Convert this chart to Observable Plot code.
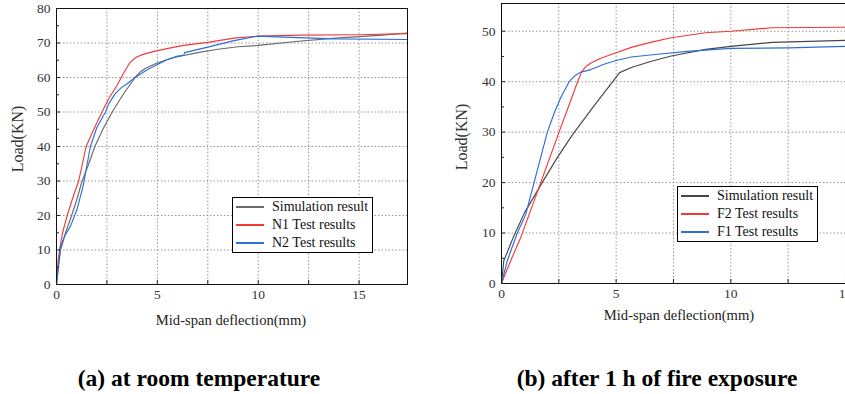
<!DOCTYPE html>
<html><head><meta charset="utf-8">
<script src="https://cdn.jsdelivr.net/npm/d3@7"></script>
<script src="https://cdn.jsdelivr.net/npm/@observablehq/plot@0.6"></script>
<style>
html,body{margin:0;padding:0;background:#fff;overflow:hidden;width:845px;height:394px}
#wrap{position:relative;width:845px;height:394px;overflow:hidden;font-family:'Liberation Serif','DejaVu Serif',serif;color:#222}
.panel{position:absolute;top:0}
.panel text{font-family:'Liberation Serif','DejaVu Serif',serif}
.t{position:absolute;white-space:nowrap;line-height:1}
.ylab{font-size:16px;transform:translate(-50%,-50%) rotate(-90deg);color:#333}
.xlab{font-size:14.6px;transform:translateX(-50%);color:#222}
.title{font-size:23.5px;font-weight:bold;transform:translateX(-50%);color:#000}
.legend{position:absolute;border:1.3px solid #000;background:#fff;font-size:14px;padding:0 4px 0 3px;color:#111}
.legend .row{display:flex;align-items:center;height:18px}
.legend .sw{display:inline-block;width:28px;height:1.5px;margin-right:8px}
</style>
</head><body><div id="wrap"></div>
<script>
// ---- Panel (a): at room temperature ----
const simA_x = [0,0.1,0.2,0.45,0.75,1.0,1.27,1.6,1.9,2.3,2.76,3.35,3.9,4.15,4.4,4.7,5,5.5,6,7,8,9,10,12,14,16,17.4];
const simA_y = [0,5,10,15,20,24.5,30,35,40,45,50,55.5,60,61.6,62.6,63.5,64.2,65.2,66,67.2,68.2,68.9,69.3,70.5,71.5,72.2,72.9];
const n1_x = [0,0.08,0.15,0.3,0.53,0.8,1.1,1.47,1.85,2.26,2.6,3.0,3.3,3.6,3.8,4.0,4.3,4.6,5,5.6,6.3,7.5,8.8,10,12.1,15,17.4];
const n1_y = [0,7,10,15,20,25,30,40,45,50,54,57.7,61,64,65.2,66,66.7,67.2,67.8,68.5,69.3,70.2,71.4,72,72.3,72.4,72.7];
const n2_x = [0,0.1,0.2,0.4,0.7,1.0,1.3,1.35,1.68,2.0,2.43,2.6,2.92,3.2,3.5,3.9,4.3,4.7,5,5.5,6,6.3,6.35,7.5,8.8,10,11.3,13.8,17.4];
const n2_y = [0,6,11,14,17,21.5,28,29.5,40,45.5,50,52.5,55.4,57,58.2,60,61.5,62.9,63.8,65.2,66.2,66.4,67.2,68.8,70.7,72,71.7,71.2,71];
// ---- Panel (b): after 1 h of fire exposure ----
const simB_x = [0,0.1,0.5,1.0,1.8,2.44,3.1,4.0,4.85,5.15,5.66,6.5,7.4,8.9,10,11.8,15,17];
const simB_y = [0,4.5,9,14,20.2,25,29.5,35,40,41.8,42.8,44,45.1,46.4,47,47.8,48.2,48.3];
const f2_x = [0,0.1,0.4,0.83,1.71,2.51,3.32,3.5,3.68,3.9,4.3,4.78,5.66,6.5,7.4,8.9,10,11.8,15,17];
const f2_y = [0,1.2,4.5,9,20,30,40,42,43,43.7,44.6,45.4,46.8,47.8,48.7,49.7,50,50.7,50.8,50.9];
const f1_x = [0,0.25,0.69,1.05,1.42,2.0,2.3,2.6,2.95,3.2,3.46,3.9,4.5,5.0,5.66,6.7,8.1,10,12.5,15,17];
const f1_y = [0,4.5,10,13.6,20,30,33.8,37,40,41.2,41.9,42.4,43.5,44.2,44.9,45.4,46,46.6,46.7,47,47.1];

const namesA = ["Simulation result","N1 Test results","N2 Test results"];
const namesB = ["Simulation result","F2 Test results","F1 Test results"];
const colorsA = ["#6a6a6a","#f23a3a","#2b6fd8"];
const colorsB = ["#474747","#f23a3a","#2b6fd8"];
const xTickLabels = [0,5,10,15];
const xGrid = [2.5,5,7.5,10,12.5,15];
const xMinor = [0,2.5,5,7.5,10,12.5,15];
const yTicksA = [0,10,20,30,40,50,60,70,80];
const yMinorA = [5,15,25,35,45,55,65,75];
const yTicksB = [0,10,20,30,40,50];
const yMinorB = [5,15,25,35,45];

function rows(xs, ys, s){ return xs.map((x,i)=>({x, y: ys[i], s})); }
const dataA = [...rows(simA_x,simA_y,namesA[0]),...rows(n1_x,n1_y,namesA[1]),...rows(n2_x,n2_y,namesA[2])];
const dataB = [...rows(simB_x,simB_y,namesB[0]),...rows(f2_x,f2_y,namesB[1]),...rows(f1_x,f1_y,namesB[2])];

const gridStyle = {stroke:"#8a8a8a", strokeOpacity:1, strokeWidth:0.9, strokeDasharray:"1.5,2"};
const serif = "Liberation Serif";

function panel(opts){
  return Plot.plot({
    width: opts.width, height: 310,
    marginLeft: opts.ml, marginTop: opts.mt, marginRight: opts.mr, marginBottom: opts.mb,
    x: {domain: [0, 17.4], label: null},
    y: {domain: opts.ydom, label: null},
    color: {domain: opts.names, range: opts.colors},
    style: {fontFamily: serif, fontSize: "13.5px", color: "#333", background: "transparent"},
    marks: [
      Plot.gridX(xGrid, gridStyle),
      Plot.gridY(opts.yt.filter(v => v > 0 && v < opts.ydom[1]), gridStyle),
      Plot.line(opts.data, {x: "x", y: "y", z: "s", stroke: "s", strokeWidth: 1.15, curve: "linear"}),
      Plot.frame({stroke: "#111", strokeWidth: 1}),
      Plot.axisX(xTickLabels, {tickSize: 0, tickPadding: 5, fill: "#333", label: null, fontFamily: serif, fontSize: 13.5}),
      Plot.axisX(xMinor, {tickSize: 4, dy: -4, text: null, stroke: "#222", label: null}),
      Plot.axisY(opts.yt, {tickSize: 0, tickPadding: 6, fill: "#333", label: null, fontFamily: serif, fontSize: 13.5}),
      Plot.axisY(opts.yt, {tickSize: 4, dx: 4, text: null, stroke: "#222", label: null}),
      Plot.axisY(opts.ym, {tickSize: 3, dx: 3, text: null, stroke: "#222", label: null})
    ]
  });
}

const wrap = document.getElementById("wrap");
const pA = panel({width: 420, ml: 56, mt: 8, mr: 13, mb: 26, ydom: [0, 80], yt: yTicksA, ym: yMinorA, data: dataA, names: namesA, colors: colorsA});
pA.classList.add("panel"); pA.style.left = "0px";
wrap.appendChild(pA);
const pB = panel({width: 480, ml: 81, mt: 3, mr: 0, mb: 27, ydom: [0, 55.5], yt: yTicksB, ym: yMinorB, data: dataB, names: namesB, colors: colorsB});
pB.classList.add("panel"); pB.style.left = "420px";
wrap.appendChild(pB);

function text(cls, str, left, top){
  const d = document.createElement("div");
  d.className = "t " + cls; d.textContent = str;
  d.style.left = left + "px"; d.style.top = top + "px";
  wrap.appendChild(d); return d;
}
text("ylab", "Load(KN)", 18, 139);
text("ylab", "Load(KN)", 462, 137);
text("xlab", "Mid-span deflection(mm)", 231, 313);
text("xlab", "Mid-span deflection(mm)", 679, 308);
text("title", "(a) at room temperature", 199, 367);
text("title", "(b) after 1 h of fire exposure", 657, 367);

function legend(names, colors, left, top){
  const box = document.createElement("div");
  box.className = "legend";
  box.style.left = left + "px"; box.style.top = top + "px";
  names.forEach((n, i) => {
    const r = document.createElement("div"); r.className = "row";
    const sw = document.createElement("span"); sw.className = "sw"; sw.style.background = colors[i];
    const tx = document.createElement("span"); tx.textContent = n;
    r.appendChild(sw); r.appendChild(tx); box.appendChild(r);
  });
  wrap.appendChild(box);
}
legend(namesA, colorsA, 232, 197);
legend(namesB, colorsB, 677, 186);
</script>
</body></html>
